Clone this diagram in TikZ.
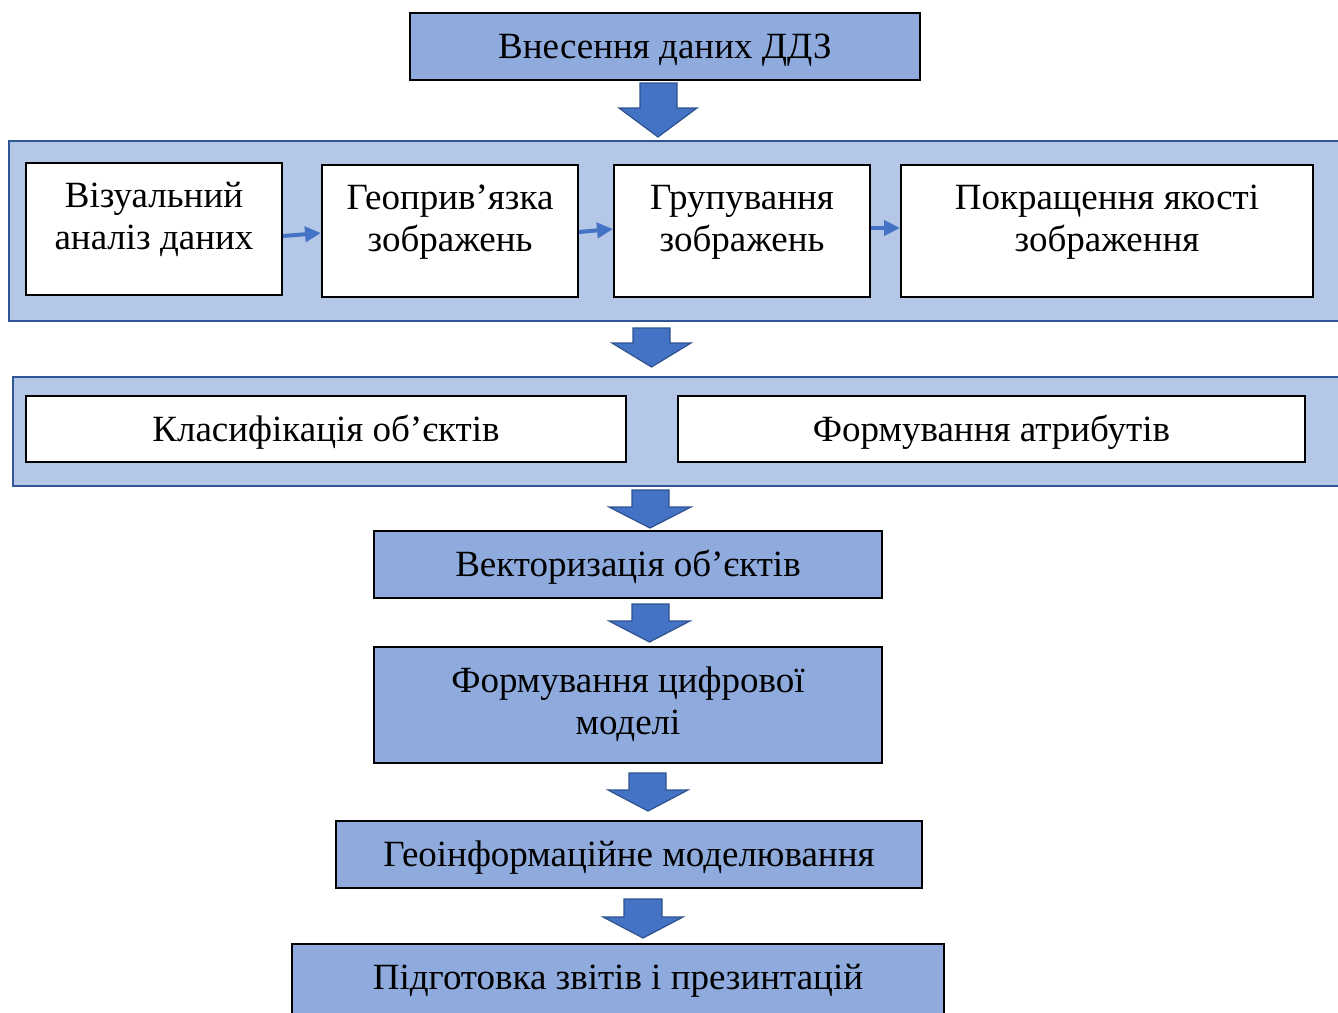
\documentclass[tikz,border=0pt]{standalone}
\usepackage{fontspec}
\setmainfont{Liberation Serif}
\usetikzlibrary{arrows.meta}

\definecolor{boxblue}{HTML}{8FAADC}
\definecolor{panelfill}{HTML}{B4C7E7}
\definecolor{panelline}{HTML}{2F5597}
\definecolor{arrowfill}{HTML}{4472C4}
\definecolor{arrowline}{HTML}{2F528F}

% block arrow pointing down: shaft left/right, head left/right, top, head base, tip
\newcommand{\downblock}[7]{%
  \draw[blockarrow] (#1,#5) -- (#2,#5) -- (#2,#6) -- (#4,#6)
    -- ({(#3+#4)/2},#7) -- (#3,#6) -- (#1,#6) -- cycle;}

\tikzset{
  box/.style={draw=black, line width=2pt, fill=white, inner sep=0pt},
  bluebox/.style={box, fill=boxblue},
  panel/.style={draw=panelline, line width=2.5pt, fill=panelfill, inner sep=0pt},
  txt/.style={font=\fontsize{37}{42}\selectfont, align=center, inner sep=0pt, anchor=base},
  blockarrow/.style={fill=arrowfill, draw=arrowline, line width=1.2pt, line join=miter},
  linkarrow/.style={draw=arrowfill, line width=4pt, -{Triangle[length=16pt,width=15pt]}},
}

\begin{document}
\begin{tikzpicture}[x=1pt, y=-1pt]
\useasboundingbox (0,0) rectangle (1338,1012);
\clip (0,0) rectangle (1338,1012);
\fill[white] (0,0) rectangle (1338,1012);

% input
\node[bluebox, minimum width=510pt, minimum height=67pt] (input) at (665,46.5) {};
\node[txt] (tinput) at ([yshift=-46pt]input.north) {Внесення даних ДДЗ};

\downblock{640}{677}{619}{697}{83}{108}{137}

% preprocessing stage (base anchor of two-line text sits on its last line)
\node[panel, minimum width=1336pt, minimum height=180pt] (pre) at (677,231) {};
\node[box, minimum width=256pt, minimum height=132pt] (vis) at (154,229) {};
\node[box, minimum width=256pt, minimum height=132pt] (geo) at (450,231) {};
\node[box, minimum width=256pt, minimum height=132pt] (grp) at (742,231) {};
\node[box, minimum width=412pt, minimum height=132pt] (enh) at (1107,231) {};
\node[txt] (tvis) at ([yshift=-87pt]vis.north) {Візуальний\\аналіз даних};
\node[txt] (tgeo) at ([yshift=-87pt]geo.north) {Геоприв’язка\\зображень};
\node[txt] (tgrp) at ([yshift=-87pt]grp.north) {Групування\\зображень};
\node[txt] (tenh) at ([yshift=-87pt]enh.north) {Покращення якості\\зображення};

\draw[linkarrow] ([yshift=-7pt]vis.east) -- ([yshift=-2pt]geo.west);
\draw[linkarrow] ([yshift=-1pt]geo.east) -- ([yshift=2pt]grp.west);
\draw[linkarrow] ([yshift=3pt]grp.east) -- ([yshift=3pt]enh.west);

\downblock{633}{670}{612}{691}{328}{343}{367}

% classification stage
\node[panel, minimum width=1332pt, minimum height=109pt] (cls) at (679,431.5) {};
\node[box, minimum width=600pt, minimum height=66pt] (obj) at (326,429) {};
\node[box, minimum width=627pt, minimum height=66pt] (att) at (991.5,429) {};
\node[txt] (tobj) at ([yshift=-46pt]obj.north) {Класифікація об’єктів};
\node[txt] (tatt) at ([yshift=-46pt]att.north) {Формування атрибутів};

\downblock{632}{669}{609}{691}{490}{507}{528}

\node[bluebox, minimum width=508pt, minimum height=67pt] (vec) at (628,564.5) {};
\node[txt] (tvec) at ([yshift=-46pt]vec.north) {Векторизація об’єктів};

\downblock{632}{669}{609}{690}{604}{621}{642}

\node[bluebox, minimum width=508pt, minimum height=116pt] (dig) at (628,705) {};
\node[txt] (tdig) at ([yshift=-88pt]dig.north) {Формування цифрової\\моделі};

\downblock{629}{666}{608}{688}{773}{790}{811}

\node[bluebox, minimum width=586pt, minimum height=67pt] (gis) at (629,854.5) {};
\node[txt] (tgis) at ([yshift=-46pt]gis.north) {Геоінформаційне моделювання};

\downblock{624}{662}{603}{683}{899}{917}{938}

\node[bluebox, minimum width=652pt, minimum height=86pt] (rep) at (618,987) {};
\node[txt] (trep) at ([yshift=-46pt]rep.north) {Підготовка звітів і презинтацій};
\end{tikzpicture}
\end{document}
